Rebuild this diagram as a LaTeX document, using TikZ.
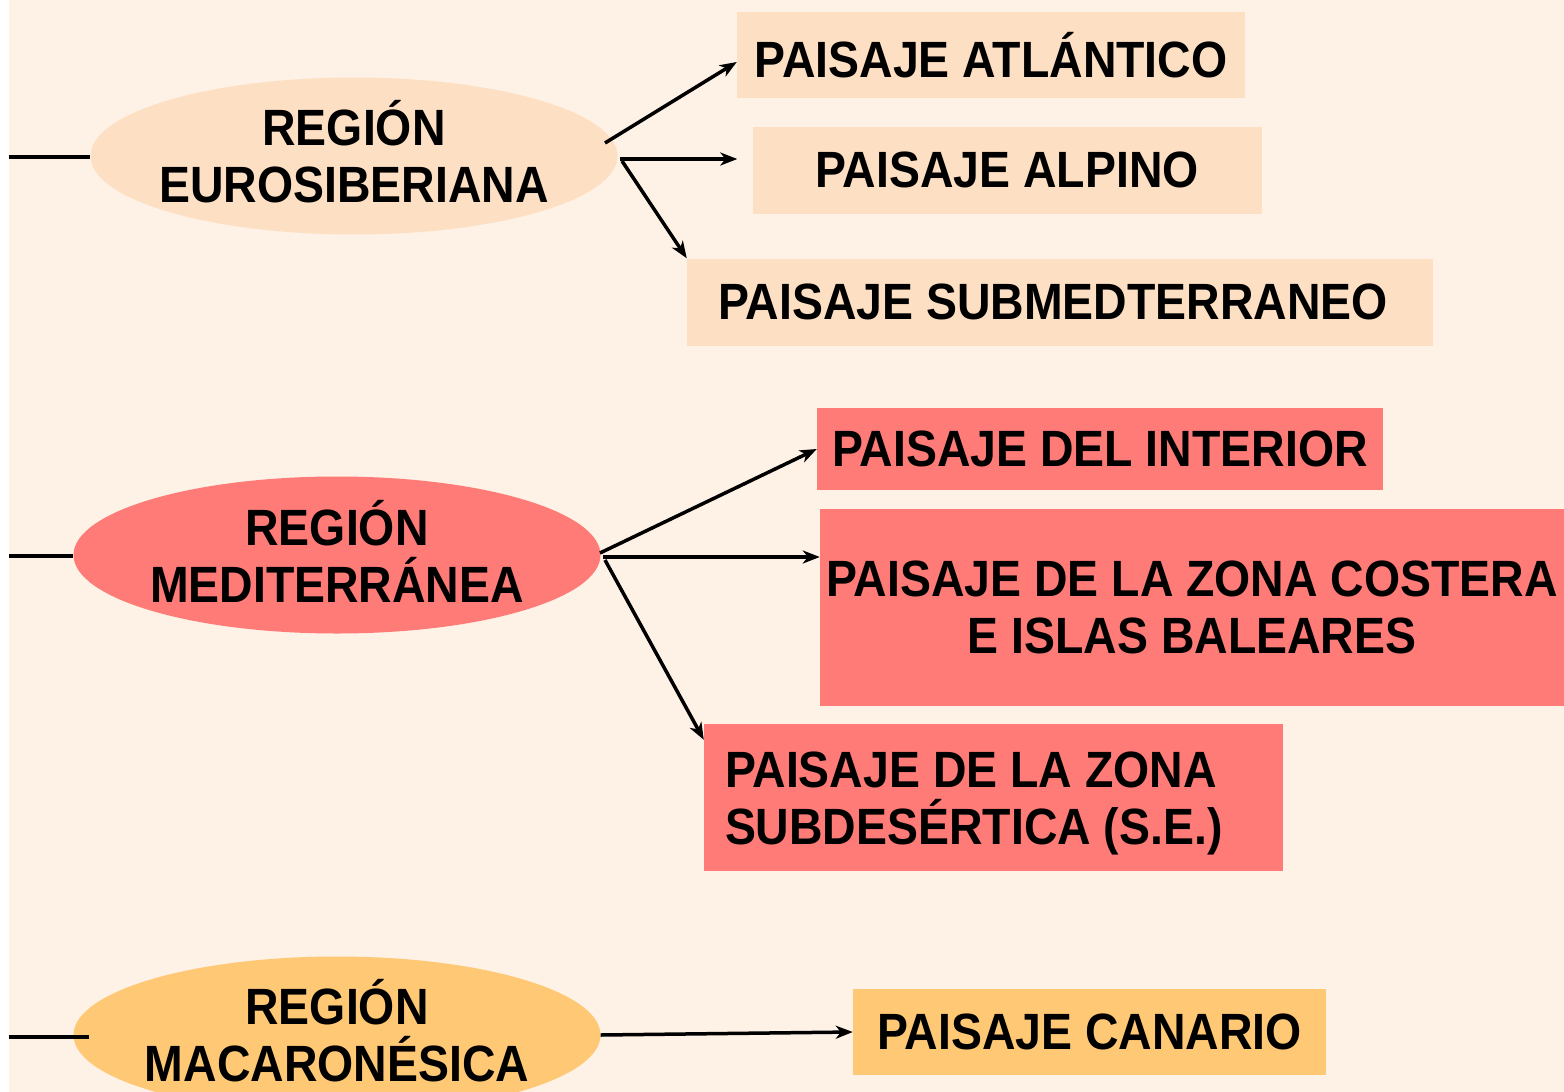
\documentclass[tikz,border=0pt]{standalone}
\usepackage{fontspec}
\setmainfont{Liberation Sans}[FakeStretch=0.91]
\usetikzlibrary{shapes.geometric,arrows.meta}
\definecolor{bgcream}{HTML}{FEF1E5}
\definecolor{peach}{HTML}{FDDFC3}
\definecolor{salmon}{HTML}{FF7B77}
\definecolor{orangey}{HTML}{FEC874}
\tikzset{
  lbl/.style={font=\fontsize{51}{57}\selectfont\bfseries, text=black, inner sep=0pt},
  region/.style={ellipse, minimum width=527pt, minimum height=157pt, inner sep=0pt},
  rtext/.style={lbl, align=center},
  pbox/.style={lbl, rectangle, align=center},
  conn/.style={line width=3.5pt, black},
  arr/.style={conn, -{Stealth[length=17pt,width=13pt,inset=5pt]}},
}
\begin{document}
\begin{tikzpicture}[x=1pt,y=-1pt]
\useasboundingbox (0,0) rectangle (1564,1092);
\fill[white] (0,0) rectangle (1564,1092);
\fill[bgcream] (9,0) rectangle (1564,1092);

% Eurosiberiana
\node[region, fill=peach] (euro) at (354,156) {};
\node[rtext] (eurot) at ([yshift=4pt]euro.center) {REGIÓN\\EUROSIBERIANA};
\node[pbox, fill=peach, minimum width=508pt, minimum height=86pt] (atl) at (991,55) {PAISAJE ATLÁNTICO};
\node[pbox, fill=peach, minimum width=509pt, minimum height=87pt] (alp) at (1007,170) {PAISAJE ALPINO};
\node[pbox, fill=peach, minimum width=746pt, minimum height=87pt] (sub) at (1060,302) {\hspace*{-14pt}PAISAJE SUBMEDTERRANEO};
\coordinate (lE) at (9,157);
\draw[conn] (lE) -- (lE -| euro.west);
\coordinate (e1) at (605,143);
\coordinate (e2) at (620,159);
\coordinate (e3) at (622,161);
\draw[arr] (e1) -- ([yshift=-7pt]atl.west);
\draw[arr] (e2) -- ([xshift=-15pt]e2 -| alp.west);
\draw[arr] (e3) -- (sub.north west);

% Mediterranea
\node[region, fill=salmon] (med) at (337,555) {};
\node[rtext] (medt) at ([yshift=4pt]med.center) {REGIÓN\\MEDITERRÁNEA};
\node[pbox, fill=salmon, minimum width=566pt, minimum height=82pt] (int) at (1100,449) {PAISAJE DEL INTERIOR};
\node[pbox, fill=salmon, minimum width=744pt, minimum height=197pt] (cos) at (1192,607) {PAISAJE DE LA ZONA COSTERA\\E ISLAS BALEARES};
\node[rectangle, fill=salmon, minimum width=579pt, minimum height=147pt, inner sep=0pt] (sde) at (993.5,797.5) {};
\node[lbl, align=flush left, text width=537pt] (sdet) at ([yshift=-6pt]sde.center) {PAISAJE DE LA ZONA\\SUBDESÉRTICA (S.E.)};
\coordinate (lM) at (9,556);
\draw[conn] (lM) -- (lM -| med.west);
\coordinate (m1) at (600,553);
\coordinate (m2) at (603,557);
\coordinate (m3) at (605,560);
\draw[arr] (m1) -- (int.west);
\draw[arr] (m2) -- (m2 -| cos.west);
\draw[arr] (m3) -- ([yshift=-16pt]sde.north west);

% Macaronesica
\node[region, fill=orangey] (mac) at (337,1035) {};
\node[rtext] (mact) at ([yshift=4pt]mac.center) {REGIÓN\\MACARONÉSICA};
\node[pbox, fill=orangey, minimum width=473pt, minimum height=86pt] (can) at (1089.5,1032) {PAISAJE CANARIO};
\coordinate (lC) at (9,1037);
\draw[conn] (lC) -- ([xshift=16pt]lC -| mac.west);
\draw[arr] (mac.east) -- (can.west);
\end{tikzpicture}
\end{document}
